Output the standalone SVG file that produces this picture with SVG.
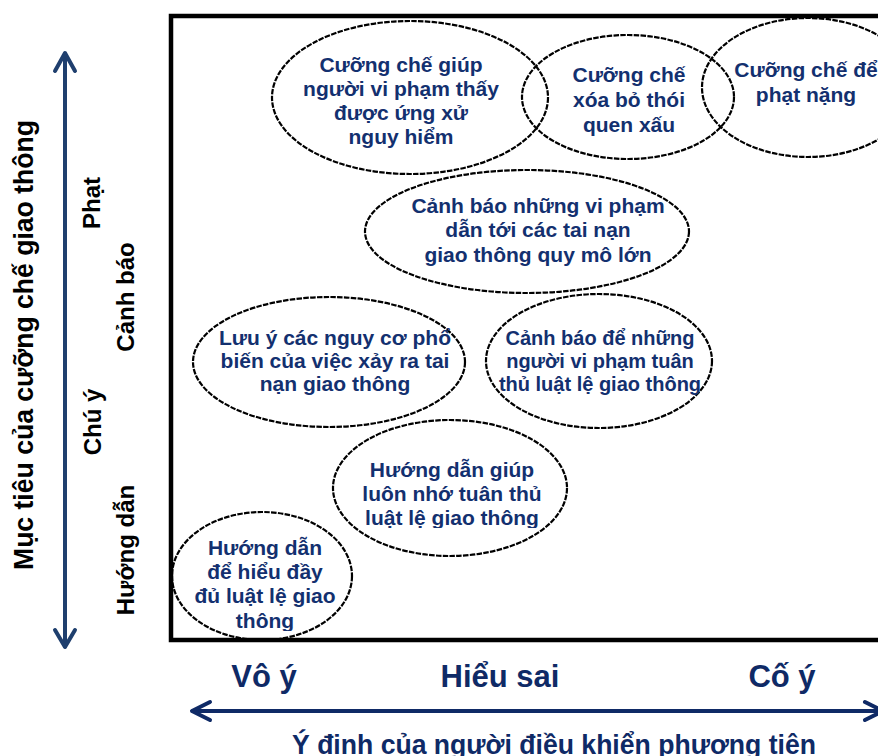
<svg xmlns="http://www.w3.org/2000/svg" width="878" height="756" viewBox="0 0 878 756">
<style>
.bg{fill:#ffffff}
.frame{fill:none;stroke:#000000;stroke-width:4.5}
.oval{fill:none;stroke:#000000;stroke-width:2.2;stroke-dasharray:5.5 1.3}
.t{font-family:"Liberation Sans",Arial,sans-serif;font-weight:bold;font-size:21px;fill:#13306f;text-anchor:middle}
.t20{font-size:20px}
.ax{font-family:"Liberation Sans",Arial,sans-serif;font-weight:bold;fill:#000000;text-anchor:middle}
.bx{font-family:"Liberation Sans",Arial,sans-serif;font-weight:bold;fill:#0f2a66;text-anchor:middle}
.varrow{stroke:#1f3f6e;stroke-width:4;fill:none;stroke-linecap:round;stroke-linejoin:round}
.harrow{stroke:#0f2a66;stroke-width:4;fill:none;stroke-linecap:round;stroke-linejoin:round}
</style>
<defs>
<clipPath id="clip7"><rect x="300" y="410" width="300" height="118"/></clipPath>
<clipPath id="clip8"><rect x="160" y="500" width="220" height="131"/></clipPath>
</defs>
<rect class="bg" x="0" y="0" width="878" height="756"/>
<rect class="frame" x="171" y="16" width="720" height="624"/>

<g id="connectors">
  <g id="axis-vertical">
    <line class="varrow" x1="65" y1="54" x2="65" y2="646"/>
    <polyline class="varrow" points="55,71 65,53 75,71"/>
    <polyline class="varrow" points="55,630 65,647 75,630"/>
  </g>
  <g id="axis-horizontal">
    <line class="harrow" x1="193" y1="711" x2="884" y2="711"/>
    <polyline class="harrow" points="210,702 192,711 210,720"/>
    <polyline class="harrow" points="865,702 883,711 865,720"/>
  </g>
</g>

<g id="y-axis-labels">
  <text class="ax" font-size="27" transform="translate(33,345) rotate(-90)" textLength="450" lengthAdjust="spacingAndGlyphs">Mục tiêu của cưỡng chế giao thông</text>
  <text class="ax" font-size="24" transform="translate(100,203) rotate(-90)">Phạt</text>
  <text class="ax" font-size="24" transform="translate(134,297) rotate(-90)">Cảnh báo</text>
  <text class="ax" font-size="24" transform="translate(101,422) rotate(-90)">Chú ý</text>
  <text class="ax" font-size="24" transform="translate(134,550) rotate(-90)">Hướng dẫn</text>
</g>

<g id="x-axis-labels">
  <text class="bx" font-size="31" x="264" y="687">Vô ý</text>
  <text class="bx" font-size="31" x="500" y="687">Hiểu sai</text>
  <text class="bx" font-size="31" x="782" y="687">Cố ý</text>
  <text class="bx" font-size="27" x="554" y="754" textLength="524" lengthAdjust="spacingAndGlyphs">Ý định của người điều khiển phương tiện</text>
</g>

<g id="node-cuong-che-giup">
  <ellipse class="oval" cx="410" cy="97.5" rx="138" ry="76.5"/>
  <text class="t" x="401" y="72">Cưỡng chế giúp</text>
  <text class="t" x="401" y="96">người vi phạm thấy</text>
  <text class="t" x="401" y="120">được ứng xử</text>
  <text class="t" x="401" y="144">nguy hiểm</text>
</g>

<g id="node-xoa-bo">
  <ellipse class="oval" cx="628" cy="97" rx="106" ry="62"/>
  <text class="t" x="629" y="82">Cưỡng chế</text>
  <text class="t" x="629" y="107">xóa bỏ thói</text>
  <text class="t" x="629" y="132">quen xấu</text>
</g>

<g id="node-phat-nang">
  <ellipse class="oval" cx="808" cy="87.5" rx="106" ry="69.5"/>
  <text class="t" x="806" y="77">Cưỡng chế để</text>
  <text class="t" x="806" y="102">phạt nặng</text>
</g>

<g id="node-canh-bao-vi-pham">
  <ellipse class="oval" cx="527" cy="231.5" rx="162" ry="61.5"/>
  <text class="t" x="538" y="213">Cảnh báo những vi phạm</text>
  <text class="t" x="538" y="237">dẫn tới các tai nạn</text>
  <text class="t" x="538" y="262">giao thông quy mô lớn</text>
</g>

<g id="node-luu-y">
  <ellipse class="oval" cx="329" cy="362" rx="136" ry="65"/>
  <text class="t" x="335" y="345">Lưu ý các nguy cơ phổ</text>
  <text class="t" x="335" y="368">biến của việc xảy ra tai</text>
  <text class="t" x="335" y="391">nạn giao thông</text>
</g>

<g id="node-canh-bao-tuan-thu">
  <ellipse class="oval" cx="599" cy="361" rx="113" ry="67"/>
  <text class="t t20" x="600" y="345">Cảnh báo để những</text>
  <text class="t t20" x="600" y="368">người vi phạm tuân</text>
  <text class="t t20" x="600" y="391">thủ luật lệ giao thông</text>
</g>

<g id="node-huong-dan-giup">
  <ellipse class="oval" cx="450" cy="488" rx="117" ry="68"/>
  <g clip-path="url(#clip7)">
    <text class="t" x="452" y="477">Hướng dẫn giúp</text>
    <text class="t" x="452" y="501">luôn nhớ tuân thủ</text>
    <text class="t" x="452" y="525">luật lệ giao thông</text>
  </g>
</g>

<g id="node-huong-dan-hieu">
  <ellipse class="oval" cx="262" cy="576" rx="90" ry="64"/>
  <g clip-path="url(#clip8)">
    <text class="t" x="265" y="555">Hướng dẫn</text>
    <text class="t" x="265" y="579">để hiểu đầy</text>
    <text class="t" x="265" y="603">đủ luật lệ giao</text>
    <text class="t" x="265" y="628">thông</text>
  </g>
</g>
</svg>
